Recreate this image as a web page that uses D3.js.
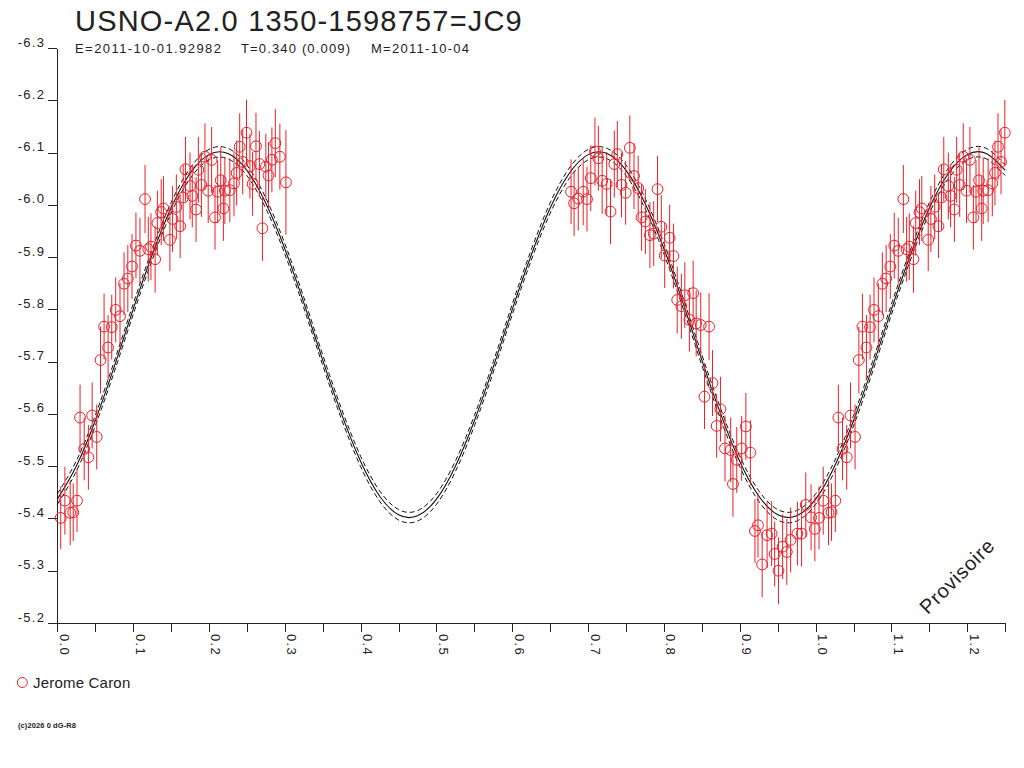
<!DOCTYPE html>
<html>
<head>
<meta charset="utf-8">
<script src="https://cdn.jsdelivr.net/npm/d3@7"></script>
<style>
  body { margin: 0; background: #fff; }
  svg { display: block; font-family: "Liberation Sans", Arial, sans-serif; }
  .axis path, .axis line { stroke: #222; shape-rendering: crispEdges; }
  .axis text { fill: #222; font-size: 13px; letter-spacing: 1.3px; }
</style>
</head>
<body>
<div id="chart"></div>
<script>
// tick values
const yTicks = [-6.3, -6.2, -6.1, -6.0, -5.9, -5.8, -5.7, -5.6, -5.5, -5.4, -5.3, -5.2];
const xTicks = [0, 0.05, 0.1, 0.15, 0.2, 0.25, 0.3, 0.35, 0.4, 0.45, 0.5, 0.55, 0.6,
  0.65, 0.7, 0.75, 0.8, 0.85, 0.9, 0.95, 1.0, 1.05, 1.1, 1.15, 1.2, 1.25];
const xLabelTicks = [0, 0.1, 0.2, 0.3, 0.4, 0.5, 0.6, 0.7, 0.8, 0.9, 1.0, 1.1, 1.2];

// observations (phase, magnitude, error)
const obsPhase = [
  0.0045, 0.010, 0.017, 0.021, 0.026, 0.030, 0.0355, 0.041, 0.046, 0.052,
  0.057, 0.0617, 0.067, 0.0718, 0.077, 0.0827, 0.088, 0.093, 0.0985, 0.1037,
  0.109, 0.1157, 0.120, 0.1235, 0.129, 0.132, 0.137, 0.140, 0.1485, 0.152,
  0.157, 0.162, 0.166, 0.169, 0.175, 0.178, 0.183, 0.186, 0.190, 0.1947,
  0.199, 0.2035, 0.208, 0.2115, 0.2155, 0.219, 0.221, 0.2275, 0.233, 0.2365,
  0.2405, 0.2445, 0.2495, 0.254, 0.2575, 0.262, 0.2665, 0.2705, 0.275, 0.2785,
  0.283, 0.2875, 0.2935, 0.3015,
  0.6775, 0.6815, 0.687, 0.6935, 0.6985, 0.7035, 0.709, 0.7135, 0.7185, 0.7245,
  0.7295, 0.7345, 0.7385, 0.744, 0.7495, 0.755, 0.7605, 0.766, 0.7705, 0.7755,
  0.7815, 0.7865, 0.7915, 0.7965, 0.801, 0.8075, 0.8125, 0.8175, 0.823, 0.8275,
  0.8385, 0.8335, 0.8425, 0.8485, 0.8595, 0.8535, 0.864, 0.8745, 0.8695, 0.8805,
  0.888, 0.896, 0.9025, 0.908, 0.914, 0.891, 0.924, 0.920, 0.936, 0.942,
  0.9295, 0.946, 0.951, 0.9565, 0.962, 0.967, 0.976, 0.9815, 0.987, 0.994,
  0.999
];
const obsMag = [
  -5.401, -5.434, -5.411, -5.412, -5.434, -5.593, -5.533, -5.517, -5.597, -5.556,
  -5.703, -5.767, -5.727, -5.766, -5.799, -5.787, -5.849, -5.859, -5.882, -5.922,
  -5.912, -6.011, -5.915, -5.920, -5.896, -5.965, -5.986, -5.993, -5.933, -5.973,
  -5.996, -5.959, -6.014, -6.068, -6.036, -6.017, -5.991, -6.067, -6.038, -6.092,
  -6.027, -6.086, -5.976, -6.025, -6.047, -5.993, -6.027, -6.028, -6.041, -6.061,
  -6.111, -6.082, -6.138, -6.074, -6.040, -6.112, -6.078, -5.955, -6.073, -6.056,
  -6.086, -6.118, -6.092, -6.043,
  -6.025, -6.003, -6.012, -6.025, -6.011, -6.051, -6.102, -6.089, -6.046, -6.040,
  -5.987, -6.078, -6.097, -6.038, -6.023, -6.109, -6.055, -6.032, -5.976, -5.968,
  -5.942, -5.945, -6.030, -5.958, -5.903, -5.937, -5.902, -5.818, -5.806, -5.827,
  -5.831, -5.780, -5.773, -5.770, -5.767, -5.633, -5.659, -5.609, -5.577, -5.534,
  -5.531, -5.512, -5.534, -5.576, -5.526, -5.466, -5.387, -5.376, -5.368, -5.371,
  -5.312, -5.332, -5.300, -5.346, -5.336, -5.359, -5.371, -5.371, -5.426, -5.402,
  -5.380
];
const obsErr = [
  0.060, 0.065, 0.062, 0.055, 0.060, 0.063, 0.060, 0.062, 0.063, 0.062,
  0.064, 0.063, 0.062, 0.062, 0.062, 0.063, 0.060, 0.064, 0.062, 0.063,
  0.063, 0.065, 0.062, 0.064, 0.064, 0.062, 0.063, 0.062, 0.060, 0.063,
  0.062, 0.061, 0.063, 0.062, 0.064, 0.060, 0.062, 0.063, 0.061, 0.064,
  0.062, 0.063, 0.062, 0.060, 0.063, 0.062, 0.064, 0.061, 0.063, 0.062,
  0.064, 0.062, 0.063, 0.062, 0.061, 0.064, 0.063, 0.062, 0.063, 0.064,
  0.062, 0.065, 0.063, 0.100,
  0.062, 0.063, 0.061, 0.064, 0.062, 0.063, 0.065, 0.062, 0.063, 0.061,
  0.062, 0.064, 0.063, 0.062, 0.061, 0.062, 0.063, 0.062, 0.064, 0.062,
  0.063, 0.062, 0.063, 0.061, 0.062, 0.063, 0.062, 0.064, 0.062, 0.063,
  0.062, 0.061, 0.063, 0.062, 0.064, 0.062, 0.063, 0.062, 0.061, 0.063,
  0.062, 0.063, 0.062, 0.064, 0.062, 0.063, 0.062, 0.061, 0.063, 0.062,
  0.063, 0.062, 0.064, 0.062, 0.063, 0.062, 0.061, 0.063, 0.062, 0.063,
  0.062
];

// fitted light curve and its envelope, sampled every 0.025 in phase
const curvePhase = [
  0, 0.025, 0.05, 0.075, 0.1, 0.125, 0.15, 0.175, 0.2, 0.225,
  0.25, 0.275, 0.3, 0.325, 0.35, 0.375, 0.4, 0.425, 0.45, 0.475,
  0.5, 0.525, 0.55, 0.575, 0.6, 0.625, 0.65, 0.675, 0.7, 0.725,
  0.75, 0.775, 0.8, 0.825, 0.85, 0.875, 0.9, 0.925, 0.95, 0.975,
  1.0, 1.025, 1.05, 1.075, 1.1, 1.125, 1.15, 1.175, 1.2, 1.225, 1.25
];
const curveMid = [
  -5.437, -5.500, -5.587, -5.690, -5.800, -5.904, -5.994, -6.060, -6.096, -6.098,
  -6.066, -6.003, -5.916, -5.813, -5.703, -5.599, -5.509, -5.443, -5.407, -5.405,
  -5.437, -5.500, -5.587, -5.690, -5.800, -5.904, -5.994, -6.060, -6.096, -6.098,
  -6.066, -6.003, -5.916, -5.813, -5.703, -5.599, -5.509, -5.443, -5.407, -5.405,
  -5.437, -5.500, -5.587, -5.690, -5.800, -5.904, -5.994, -6.060, -6.096, -6.098,
  -6.066
];
const curveUpper = [
  -5.447, -5.510, -5.597, -5.700, -5.810, -5.914, -6.004, -6.070, -6.106, -6.108,
  -6.076, -6.013, -5.926, -5.823, -5.713, -5.609, -5.519, -5.453, -5.417, -5.415,
  -5.447, -5.510, -5.597, -5.700, -5.810, -5.914, -6.004, -6.070, -6.106, -6.108,
  -6.076, -6.013, -5.926, -5.823, -5.713, -5.609, -5.519, -5.453, -5.417, -5.415,
  -5.447, -5.510, -5.597, -5.700, -5.810, -5.914, -6.004, -6.070, -6.106, -6.108,
  -6.076
];
const curveLower = [
  -5.427, -5.490, -5.577, -5.680, -5.790, -5.894, -5.984, -6.050, -6.086, -6.088,
  -6.056, -5.993, -5.906, -5.803, -5.693, -5.589, -5.499, -5.433, -5.397, -5.395,
  -5.427, -5.490, -5.577, -5.680, -5.790, -5.894, -5.984, -6.050, -6.086, -6.088,
  -6.056, -5.993, -5.906, -5.803, -5.693, -5.589, -5.499, -5.433, -5.397, -5.395,
  -5.427, -5.490, -5.577, -5.680, -5.790, -5.894, -5.984, -6.050, -6.086, -6.088,
  -6.056
];

const width = 1024, height = 768;
const red = "#e8202a";

const svg = d3.select("#chart")
  .append("svg")
    .attr("width", width)
    .attr("height", height);

var x = d3.scaleLinear().domain([0, 1.25]).range([57.3, 1005.2]);
var y = d3.scaleLinear().domain([-6.3, -5.2]).range([48, 623]);

// Y axis
var yAxisG = svg.append("g")
  .attr("class", "axis")
  .attr("transform", `translate(${x(0)},0)`)
  .call(d3.axisLeft(y).tickValues(yTicks).tickSize(9).tickSizeOuter(0)
    .tickFormat(d => d.toFixed(1)));
yAxisG.selectAll("text")
  .attr("x", -12)
  .attr("y", -2)
  .attr("dy", null);

// X axis
var xAxisG = svg.append("g")
  .attr("class", "axis")
  .attr("transform", `translate(0,${y(-5.2)})`)
  .call(d3.axisBottom(x).tickValues(xTicks).tickSize(9).tickSizeOuter(0)
    .tickFormat(d => xLabelTicks.includes(d) ? d.toFixed(1) : ""));
xAxisG.selectAll("text")
  .attr("transform", "rotate(90)")
  .attr("text-anchor", "start")
  .attr("x", 11)
  .attr("y", -2)
  .attr("dy", null);

// curves
const curveData = curvePhase.map((p, i) => ({p: p, mid: curveMid[i], up: curveUpper[i], lo: curveLower[i]}));
const lineOf = key => d3.line().x(d => x(d.p)).y(d => y(d[key])).curve(d3.curveNatural);

svg.append("path").datum(curveData)
  .attr("d", lineOf("up"))
  .attr("fill", "none").attr("stroke", "#111").attr("stroke-width", 1)
  .attr("stroke-dasharray", "5,3");
svg.append("path").datum(curveData)
  .attr("d", lineOf("lo"))
  .attr("fill", "none").attr("stroke", "#111").attr("stroke-width", 1)
  .attr("stroke-dasharray", "5,3");
svg.append("path").datum(curveData)
  .attr("d", lineOf("mid"))
  .attr("fill", "none").attr("stroke", "#111").attr("stroke-width", 1.1);

// observations, repeated one cycle further up to the end of the axis
var points = [];
obsPhase.forEach((p, i) => {
  points.push({p: p, m: obsMag[i], e: obsErr[i]});
  if (p + 1 <= 1.25) points.push({p: p + 1, m: obsMag[i], e: obsErr[i]});
});

svg.append("g").selectAll("line")
  .data(points)
  .enter()
  .append("line")
    .attr("x1", d => x(d.p))
    .attr("x2", d => x(d.p))
    .attr("y1", d => y(d.m - d.e))
    .attr("y2", d => y(d.m + d.e))
    .attr("stroke", red)
    .attr("stroke-width", 1);

svg.append("g").selectAll("circle")
  .data(points)
  .enter()
  .append("circle")
    .attr("cx", d => x(d.p))
    .attr("cy", d => y(d.m))
    .attr("r", 5.4)
    .attr("fill", "none")
    .attr("stroke", red)
    .attr("stroke-width", 1);

// titles
svg.append("text")
  .attr("x", 75).attr("y", 31)
  .style("font-size", "29px").style("letter-spacing", "1.2px").style("fill", "#222")
  .text("USNO-A2.0 1350-1598757=JC9");

const sub = [["E=2011-10-01.92982", 75, 146], ["T=0.340 (0.009)", 241, 109], ["M=2011-10-04", 371, 98]];
svg.append("g").selectAll("text")
  .data(sub)
  .enter()
  .append("text")
    .attr("x", d => d[1]).attr("y", 53)
    .attr("textLength", d => d[2])
    .attr("lengthAdjust", "spacing")
    .style("font-size", "13px").style("fill", "#222")
    .text(d => d[0]);

// watermark
svg.append("text")
  .attr("transform", "translate(962,581) rotate(-45)")
  .attr("text-anchor", "middle")
  .style("font-size", "20px").style("letter-spacing", "0.8px").style("fill", "#222")
  .text("Provisoire");

// legend
svg.append("circle")
  .attr("cx", 22.3).attr("cy", 682.5).attr("r", 5)
  .attr("fill", "none").attr("stroke", red).attr("stroke-width", 1);
svg.append("text")
  .attr("x", 33).attr("y", 687.5)
  .style("font-size", "15px").style("letter-spacing", "0.2px").style("fill", "#222")
  .text("Jerome Caron");

svg.append("text")
  .attr("x", 18).attr("y", 727.5)
  .attr("textLength", 58)
  .attr("lengthAdjust", "spacing")
  .style("font-size", "7.5px").style("font-weight", "bold").style("fill", "#222")
  .text("(c)2026 0 dG-R8");
</script>
</body>
</html>
